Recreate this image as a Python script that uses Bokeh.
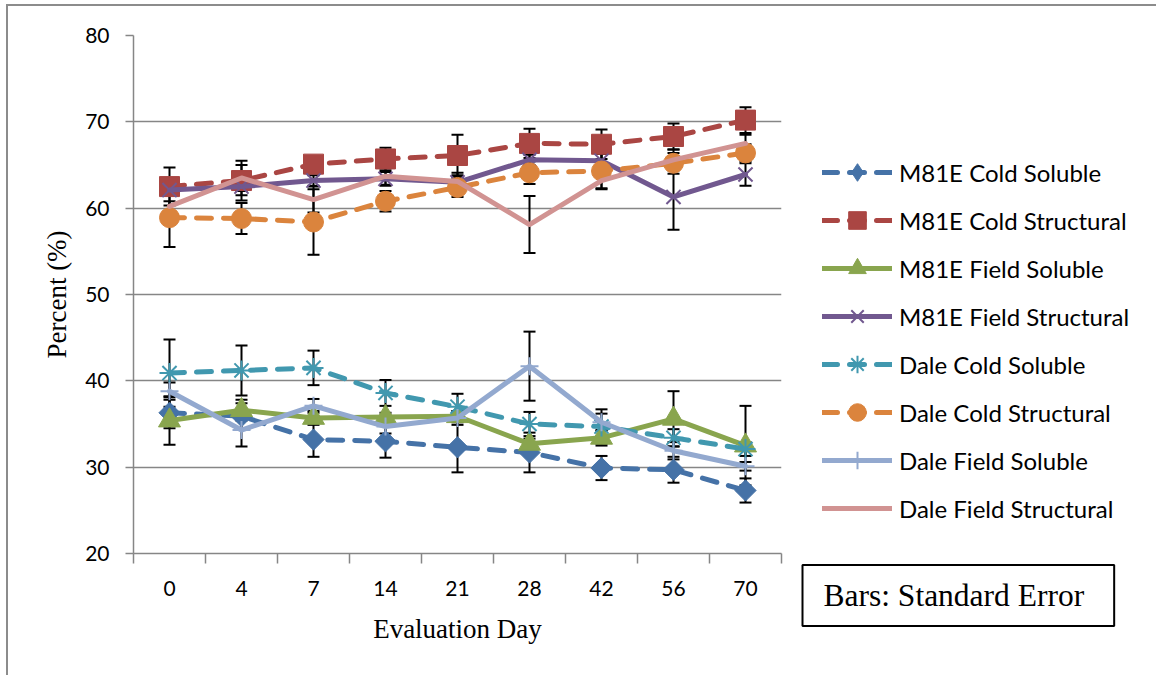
import math
from bokeh.plotting import figure
from bokeh.layouts import row
from bokeh.models import (ColumnDataSource, Whisker, TeeHead, FixedTicker, Legend,
                          LegendItem, Label, Range1d)
from bokeh.embed import file_html
from bokeh.resources import INLINE

days = ["0", "4", "7", "14", "21", "28", "42", "56", "70"]

m81e_cold_soluble = [36.3, 35.9, 33.2, 33.0, 32.3, 31.7, 29.9, 29.7, 27.3]
m81e_cold_soluble_se = [1.8, 1.5, 2.0, 1.9, 2.9, 2.3, 1.4, 1.5, 1.4]

m81e_cold_structural = [62.5, 63.2, 65.1, 65.7, 66.1, 67.5, 67.4, 68.3, 70.2]
m81e_cold_structural_se = [2.2, 2.3, 0.8, 1.3, 2.4, 1.7, 1.7, 1.5, 1.5]

m81e_field_soluble = [35.4, 36.6, 35.7, 35.8, 35.9, 32.7, 33.4, 35.6, 32.5]
m81e_field_soluble_se = [2.8, 1.2, 0.8, 0.5, 0.6, 0.6, 0.9, 3.2, 4.6]

m81e_field_structural = [62.1, 62.5, 63.2, 63.4, 63.0, 65.6, 65.5, 61.3, 63.9]
m81e_field_structural_se = [0.6, 1.0, 0.6, 0.8, 0.8, 0.6, 0.8, 3.8, 1.3]

dale_cold_soluble = [40.9, 41.2, 41.5, 38.6, 37.0, 35.0, 34.7, 33.4, 32.1]
dale_cold_soluble_se = [3.9, 2.9, 2.0, 1.5, 1.5, 1.4, 2.0, 1.0, 0.8]

dale_cold_structural = [58.9, 58.8, 58.4, 60.8, 62.4, 64.1, 64.3, 65.2, 66.4]
dale_cold_structural_se = [3.4, 1.8, 3.8, 1.2, 1.1, 1.3, 2.0, 1.2, 1.0]

dale_field_soluble = [38.8, 34.3, 37.1, 34.7, 35.7, 41.7, 35.2, 31.9, 30.1]
dale_field_soluble_se = [1.0, 1.9, 0.8, 0.8, 0.8, 4.0, 1.0, 1.0, 0.5]

dale_field_structural = [60.2, 63.5, 61.0, 63.7, 63.1, 58.1, 63.2, 65.6, 67.5]
dale_field_structural_se = [0.6, 1.5, 1.5, 1.0, 1.0, 3.3, 1.0, 1.2, 1.0]

DASH = "15 12"
# name, values, se, colour, dash, marker, size, angle
series = [
    ("M81E Cold Soluble", m81e_cold_soluble, m81e_cold_soluble_se, "#4572A7", DASH, "square", 15, math.pi / 4),
    ("M81E Cold Structural", m81e_cold_structural, m81e_cold_structural_se, "#AA4643", DASH, "square", 20, 0),
    ("M81E Field Soluble", m81e_field_soluble, m81e_field_soluble_se, "#89A54E", "solid", "triangle", 22, 0),
    ("M81E Field Structural", m81e_field_structural, m81e_field_structural_se, "#71588F", "solid", "x", 20, 0),
    ("Dale Cold Soluble", dale_cold_soluble, dale_cold_soluble_se, "#4198AF", DASH, "asterisk", 20, 0),
    ("Dale Cold Structural", dale_cold_structural, dale_cold_structural_se, "#DB843D", DASH, "circle", 20, 0),
    ("Dale Field Soluble", dale_field_soluble, dale_field_soluble_se, "#93A9CF", "solid", "cross", 18, 0),
    ("Dale Field Structural", dale_field_structural, dale_field_structural_se, "#D19392", "solid", None, 0, 0),
]

xpos = list(range(len(days)))

def add_series(fig, src, color, dash, marker, msize, angle, for_legend=False):
    r_line = fig.line("x", "y", source=src, line_color=color, line_width=5,
                      line_dash=dash, line_cap="round", line_join="round")
    rs = [r_line]
    if marker is not None:
        if marker in ("x", "asterisk", "cross"):
            r_m = fig.scatter("x", "y", source=src, marker=marker, size=msize,
                              line_color=color, line_width=2, fill_color=None)
        else:
            if for_legend and angle:
                # legend swatches ignore angle: use the diamond marker there
                r_m = fig.scatter("x", "y", source=src, marker="diamond", size=msize,
                                  line_color=color, fill_color=color)
            else:
                r_m = fig.scatter("x", "y", source=src, marker=marker, size=msize,
                                  angle=angle, line_color=color, fill_color=color)
        rs.append(r_m)
    return rs

# ---------------- main chart ----------------
p = figure(width=782, height=669, output_backend="svg", toolbar_location=None,
           x_range=Range1d(-0.5, len(days) - 0.5), y_range=Range1d(20, 80),
           min_border_left=125, min_border_right=9, min_border_top=29,
           min_border_bottom=122)
p.frame_align = False
p.outline_line_color = None
p.background_fill_color = "white"
p.border_fill_color = "white"

grid_color = "#868686"
p.xgrid.visible = False
p.ygrid.grid_line_color = grid_color
p.ygrid.grid_line_width = 1.5

yax = p.yaxis[0]
yax.ticker = FixedTicker(ticks=[20, 30, 40, 50, 60, 70, 80])
yax.axis_line_color = grid_color
yax.axis_line_width = 1.5
yax.major_tick_line_color = grid_color
yax.major_tick_line_width = 1.5
yax.major_tick_out = 8
yax.major_tick_in = 0
yax.minor_tick_line_color = None
yax.major_label_text_font = "Lato"
yax.major_label_text_font_size = "21px"
yax.major_label_text_color = "black"
yax.major_label_standoff = 16
yax.axis_label = "Percent (%)"
yax.axis_label_text_font = "Liberation Serif"
yax.axis_label_text_font_size = "27px"
yax.axis_label_text_font_style = "normal"
yax.axis_label_text_color = "black"
yax.axis_label_standoff = 10

xax = p.xaxis[0]
xax.ticker = FixedTicker(ticks=xpos, minor_ticks=[i - 0.5 for i in range(len(days) + 1)])
xax.major_label_overrides = {i: d for i, d in enumerate(days)}
xax.axis_line_color = grid_color
xax.axis_line_width = 1.5
xax.major_tick_line_color = None
xax.major_tick_out = 0
xax.major_tick_in = 0
xax.minor_tick_line_color = grid_color
xax.minor_tick_line_width = 1.5
xax.minor_tick_out = 10
xax.minor_tick_in = 0
xax.major_label_text_font = "Lato"
xax.major_label_text_font_size = "21px"
xax.major_label_text_color = "black"
xax.major_label_standoff = 17
xax.axis_label = "Evaluation Day"
xax.axis_label_text_font = "Liberation Serif"
xax.axis_label_text_font_size = "27px"
xax.axis_label_text_font_style = "normal"
xax.axis_label_text_color = "black"
xax.axis_label_standoff = 15

sources = []
for name, vals, se, color, dash, marker, msize, angle in series:
    src = ColumnDataSource(dict(x=xpos, upper=[v + s for v, s in zip(vals, se)],
                                lower=[v - s for v, s in zip(vals, se)]))
    w = Whisker(base="x", upper="upper", lower="lower", source=src,
                line_color="black", line_width=2, level="underlay",
                upper_head=TeeHead(size=12, line_color="black", line_width=2),
                lower_head=TeeHead(size=12, line_color="black", line_width=2))
    p.add_layout(w)

for name, vals, se, color, dash, marker, msize, angle in series:
    src = ColumnDataSource(dict(x=xpos, y=vals))
    sources.append(src)
    add_series(p, src, color, dash, marker, msize, angle)

# ---------------- legend + note panel ----------------
# same series drawn here only to feed the legend swatches; the view range
# lies away from the data so nothing but the legend is visible
q = figure(width=366, height=669, output_backend="svg", toolbar_location=None,
           x_range=Range1d(1000, 1001), y_range=Range1d(1000, 1001),
           x_axis_type=None, y_axis_type=None,
           min_border_left=0, min_border_right=0, min_border_top=0, min_border_bottom=0)
q.frame_align = False
q.outline_line_color = None
q.grid.visible = False
q.background_fill_color = "white"
q.border_fill_color = "white"

items = []
for (name, vals, se, color, dash, marker, msize, angle), src in zip(series, sources):
    rs = add_series(q, src, color, dash, marker, msize + (6 if angle else 0), angle, for_legend=True)
    items.append(LegendItem(label=name, renderers=rs))

legend = Legend(items=items, location=(32, 145))
legend.label_text_font = "Lato"
legend.label_text_font_size = "24px"
legend.label_text_color = "black"
legend.glyph_width = 70
legend.glyph_height = 44
legend.label_height = 44
legend.spacing = 4
legend.label_standoff = 7
legend.padding = 5
legend.margin = 0
legend.border_line_color = None
legend.background_fill_alpha = 0
q.add_layout(legend)

note = Label(x=12, y=589, x_units="canvas", y_units="canvas",
             text="Bars: Standard Error", text_font="Liberation Serif",
             text_font_size="31.5px", text_color="black", text_align="left",
             text_baseline="middle", border_line_color="black", border_line_width=2,
             background_fill_color="white",
             padding=dict(left=21, right=30, top=13, bottom=13))
q.add_layout(note)

layout = row(p, q, margin=(4, 0, 0, 6),
             styles={"border-top": "2px solid #8c8c8c", "border-left": "2px solid #8c8c8c"})

open("out.html", "w").write(file_html(layout, INLINE))
